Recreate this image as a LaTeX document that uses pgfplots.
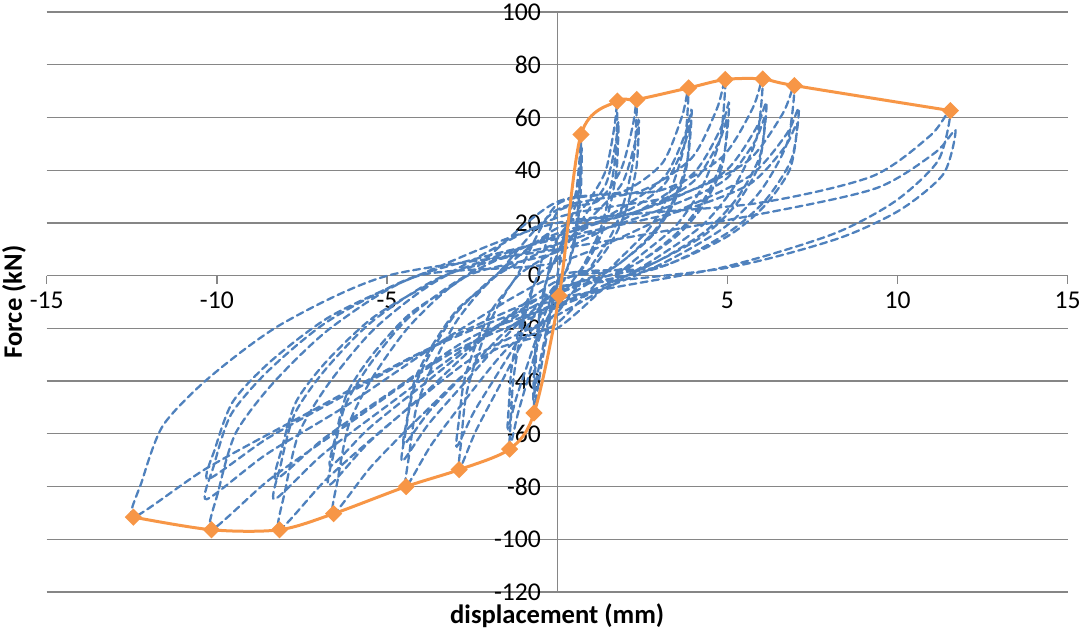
\documentclass[border=0pt]{standalone}
\usepackage{pgfplots}
\pgfplotsset{compat=1.18}
\usepackage{fontspec}
\setmainfont{Carlito}
\definecolor{exblue}{RGB}{79,129,189}
\definecolor{exorange}{RGB}{247,150,70}
\definecolor{exgrid}{RGB}{134,134,134}
\begin{document}
\begin{tikzpicture}
\useasboundingbox (-23.35pt,-18pt) rectangle (516.65pt,296pt);
\begin{axis}[
  at={(0,0)}, anchor=south west,
  scale only axis, width=510.5pt, height=290pt,
  axis lines=middle,
  axis line style={-, draw=exgrid, line width=0.65pt},
  xmin=-15, xmax=15, ymin=-120, ymax=100,
  enlargelimits=false,
  xtick={-15,-10,...,15},
  ytick={-120,-100,...,100},
  hide obscured x ticks=false, hide obscured y ticks=false,
  ymajorgrids=true,
  grid style={draw=exgrid, line width=0.65pt},
  tick align=outside,
  major tick length=4pt,
  tick style={draw=exgrid, line width=0.65pt},
  /pgf/number format/assume math mode=true,
  tick label style={font=\fontsize{12.8}{15}\selectfont, text=black, inner sep=1pt},
  xticklabel style={anchor=north, yshift=-3pt},
  yticklabel style={anchor=east, xshift=-3pt},
  xlabel={displacement (mm)},
  ylabel={Force (kN)},
  label style={font=\bfseries\fontsize{13.3}{16}\selectfont},
  xlabel style={at={(axis description cs:0.5,-0.02)}, anchor=north, inner sep=0pt},
  ylabel style={at={(axis description cs:-0.032,0.5)}, anchor=center, rotate=90, inner sep=0pt},
  clip=true,
]
\addplot[exblue, line width=1.15pt, smooth, tension=0.45, dash pattern=on 3.5pt off 2.2pt, line cap=round, mark=none] coordinates {
(0,0)
(0.35,22.5)(0.56,32.1)(0.665,45.5)(0.70,53.5)(0.68,37.5)(0.60,24.1)(0.49,13.4)(0.29,2.7)(0,-3.0)(-0.20,-15.6)(-0.41,-30.2)(-0.56,-41.7)(-0.68,-52.1)(-0.67,-44.3)(-0.63,-32.3)(-0.56,-21.9)(-0.44,-10.4)(-0.27,0)
(0,8.0)(0.36,20.2)(0.58,28.9)(0.68,41.0)(0.72,48.2)(0.70,33.7)(0.62,21.7)(0.50,12.1)(0.30,2.4)(0,-2.0)(-0.21,-14.1)(-0.42,-27.2)(-0.58,-37.5)(-0.70,-46.9)(-0.69,-39.9)(-0.65,-29.1)(-0.57,-19.7)(-0.46,-9.4)(-0.28,0)
(0,14.0)(0.89,27.8)(1.42,39.7)(1.68,56.3)(1.77,66.2)(1.72,46.3)(1.52,29.8)(1.24,16.6)(0.74,3.3)(0,-10.0)(-0.42,-19.7)(-0.84,-38.2)(-1.16,-52.6)(-1.40,-65.8)(-1.37,-55.9)(-1.30,-40.8)(-1.15,-27.6)(-0.91,-13.2)(-0.56,0)
(0,6.0)(0.90,24.5)(1.44,35.0)(1.71,49.6)(1.80,58.3)(1.75,40.8)(1.55,26.2)(1.26,14.6)(0.76,2.9)(0,-4.0)(-0.44,-17.4)(-0.87,-33.6)(-1.20,-46.3)(-1.45,-57.9)(-1.42,-49.2)(-1.35,-35.9)(-1.19,-24.3)(-0.94,-11.6)(-0.58,0)
(0,24.0)(1.17,28.1)(1.87,40.1)(2.22,56.8)(2.34,66.8)(2.27,46.8)(2.01,30.1)(1.64,16.7)(0.98,3.3)(0,-14.0)(-0.86,-22.1)(-1.73,-42.7)(-2.39,-58.9)(-2.88,-73.6)(-2.82,-62.6)(-2.68,-45.6)(-2.36,-30.9)(-1.87,-14.7)(-1.15,0)
(0,10.0)(1.20,24.7)(1.92,35.3)(2.28,50.0)(2.40,58.8)(2.33,41.2)(2.06,26.5)(1.68,14.7)(1.01,2.9)(0,-3.0)(-0.89,-19.4)(-1.77,-37.6)(-2.45,-51.8)(-2.95,-64.8)(-2.89,-55.1)(-2.74,-40.2)(-2.42,-27.2)(-1.92,-13.0)(-1.18,0)
(0,27.0)(1.93,31.9)(3.09,42.7)(3.67,60.5)(3.86,71.2)(3.74,49.8)(3.32,32.0)(2.70,17.8)(1.62,3.6)(0,-18.0)(-1.33,-26.0)(-2.66,-46.4)(-3.69,-64.0)(-4.44,-80.0)(-4.35,-68.0)(-4.13,-49.6)(-3.64,-33.6)(-2.89,-16.0)(-1.78,0)
(0,12.0)(1.98,26.3)(3.16,37.6)(3.75,53.3)(3.95,62.7)(3.83,43.9)(3.40,28.2)(2.77,15.7)(1.66,3.1)(0,-6.0)(-1.37,-21.1)(-2.73,-40.8)(-3.78,-56.3)(-4.55,-70.4)(-4.46,-59.8)(-4.23,-43.6)(-3.73,-29.6)(-2.96,-14.1)(-1.82,0)
(0,18.0)(1.95,24.0)(3.12,34.2)(3.71,48.5)(3.90,57.0)(3.78,39.9)(3.35,25.7)(2.73,14.3)(1.64,2.9)(0,-10.0)(-1.35,-19.2)(-2.70,-37.1)(-3.74,-51.2)(-4.50,-64.0)(-4.41,-54.4)(-4.19,-39.7)(-3.69,-26.9)(-2.93,-12.8)(-1.80,0)
(0,25.0)(2.47,32.2)(3.95,44.6)(4.69,63.2)(4.94,74.4)(4.79,52.1)(4.25,33.5)(3.46,18.6)(2.07,3.7)(0,-20.0)(-1.97,-29.1)(-3.94,-52.4)(-5.45,-72.2)(-6.57,-90.3)(-6.44,-76.8)(-6.11,-56.0)(-5.39,-37.9)(-4.27,-18.1)(-2.63,0)
(0,9.0)(2.53,25.5)(4.04,39.3)(4.80,55.7)(5.05,65.5)(4.90,45.9)(4.34,29.5)(3.54,16.4)(2.12,3.3)(0,-2.0)(-2.01,-21.9)(-4.02,-46.1)(-5.56,-63.6)(-6.70,-79.5)(-6.57,-67.6)(-6.23,-49.3)(-5.49,-33.4)(-4.36,-15.9)(-2.68,0)
(0,16.0)(2.50,25.0)(4.00,35.7)(4.75,50.6)(5.00,59.5)(4.85,41.7)(4.30,26.8)(3.50,14.9)(2.10,3.0)(0,-7.0)(-2.00,-21.7)(-3.99,-41.9)(-5.52,-57.8)(-6.65,-72.2)(-6.52,-61.4)(-6.18,-44.8)(-5.45,-30.3)(-4.32,-14.4)(-2.66,0)
(0,28.0)(3.02,32.3)(4.83,44.8)(5.74,63.4)(6.04,74.6)(5.86,52.2)(5.19,33.6)(4.23,18.7)(2.54,3.7)(0,-15.0)(-2.45,-30.9)(-4.90,-55.9)(-6.77,-77.1)(-8.16,-96.4)(-8.00,-81.9)(-7.59,-59.8)(-6.69,-40.5)(-5.30,-19.3)(-3.26,0)
(0,15.0)(3.08,27.6)(4.92,39.4)(5.84,55.8)(6.15,65.6)(5.97,45.9)(5.29,29.5)(4.31,16.4)(2.58,3.3)(0,-5.0)(-2.49,-25.4)(-4.98,-49.2)(-6.89,-67.8)(-8.30,-84.8)(-8.13,-72.1)(-7.72,-52.6)(-6.81,-35.6)(-5.40,-17.0)(-3.32,0)
(0,12.0)(3.05,25.1)(4.88,35.8)(5.80,50.7)(6.10,59.7)(5.92,41.8)(5.25,26.9)(4.27,14.9)(2.56,3.0)(0,-11.0)(-2.48,-23.1)(-4.95,-44.7)(-6.85,-61.7)(-8.25,-77.1)(-8.09,-65.5)(-7.67,-47.8)(-6.77,-32.4)(-5.36,-15.4)(-3.30,0)
(0,22.0)(3.49,30.3)(5.58,43.3)(6.62,61.3)(6.97,72.1)(6.76,50.5)(5.99,32.4)(4.88,18.0)(2.93,3.6)(0,-12.0)(-3.05,-28.9)(-6.10,-55.9)(-8.43,-77.1)(-10.16,-96.4)(-9.96,-81.9)(-9.45,-59.8)(-8.33,-40.5)(-6.60,-19.3)(-4.06,0)
(0,5.0)(3.55,24.6)(5.68,38.0)(6.75,53.9)(7.10,63.4)(6.89,44.4)(6.11,28.5)(4.97,15.9)(2.98,3.2)(0,0.0)(-3.09,-22.4)(-6.18,-49.2)(-8.55,-67.8)(-10.30,-84.8)(-10.09,-72.1)(-9.58,-52.6)(-8.45,-35.6)(-6.70,-17.0)(-4.12,0)
(0,14.0)(3.53,24.2)(5.64,34.6)(6.70,49.0)(7.05,57.7)(6.84,40.4)(6.06,26.0)(4.94,14.4)(2.96,2.9)(0,-6.0)(-3.08,-23.1)(-6.15,-44.7)(-8.51,-61.7)(-10.25,-77.1)(-10.05,-65.5)(-9.53,-47.8)(-8.41,-32.4)(-6.66,-15.4)(-4.10,0)
(0,20.0)(5.78,27.3)(9.24,37.6)(10.97,53.2)(11.55,62.6)(11.20,43.8)(9.93,28.2)(8.09,15.7)(4.85,3.1)(0,-9.0)(-3.74,-27.5)(-7.47,-53.1)(-10.33,-73.3)(-12.45,-91.6)(-12.20,-77.9)(-11.58,-56.8)(-10.21,-38.5)(-8.09,-18.3)(-4.98,0)
(0,10.0)(5.85,23.1)(9.36,33.1)(11.12,46.8)(11.70,55.1)(11.35,38.6)(10.06,24.8)(8.19,13.8)(4.91,2.8)(0,-4.0)
};
\addplot[exorange, line width=1.5pt, smooth, tension=0.5, mark=square*, mark size=2.3pt, mark options={rotate=45, solid, fill=exorange, draw=exorange}] coordinates {
(-12.45,-91.6)(-10.16,-96.4)(-8.16,-96.4)(-6.57,-90.3)(-4.44,-80.0)(-2.88,-73.6)(-1.40,-65.8)(-0.68,-52.1)(0.06,-7.6)(0.70,53.5)(1.77,66.2)(2.34,66.8)(3.86,71.2)(4.94,74.4)(6.04,74.6)(6.97,72.1)(11.55,62.6)
};
\end{axis}
\end{tikzpicture}
\end{document}
